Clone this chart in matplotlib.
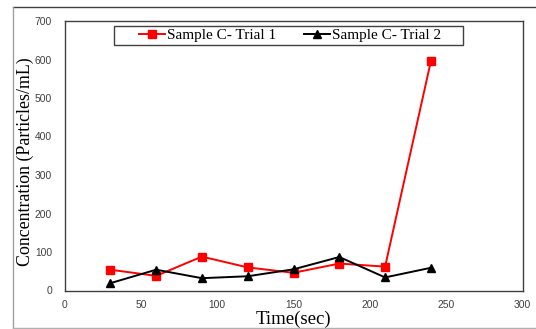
import matplotlib
matplotlib.use("Agg")
import matplotlib.pyplot as plt
from matplotlib.patches import Rectangle
from matplotlib.lines import Line2D

time_sec = [30, 60, 90, 120, 150, 180, 210, 240]
trial1 = [54, 38, 88, 60, 46, 70, 62, 596]
trial2 = [19, 54, 32, 37, 55, 87, 34, 59]
label1 = "Sample C- Trial 1"
label2 = "Sample C- Trial 2"
x_ticks = [0, 50, 100, 150, 200, 250, 300]
y_ticks = [0, 100, 200, 300, 400, 500, 600, 700]

plt.rcParams['font.family'] = ['Liberation Serif', 'DejaVu Serif']

W, H = 536, 329
fig = plt.figure(figsize=(W/100, H/100), dpi=100)
ax = fig.add_axes([64.5/W, 1-290.5/H, (522.5-64.5)/W, (290.5-21)/H])

# outer frame lines
fig.add_artist(Line2D([13/W, 1], [1-7/H, 1-7/H], color='#404040', lw=1.0, transform=fig.transFigure))
fig.add_artist(Line2D([13/W, 13/W], [1-7/H, 1-327.5/H], color='#a0a0a0', lw=1.0, transform=fig.transFigure))
fig.add_artist(Line2D([13/W, 1], [1-327.5/H, 1-327.5/H], color='#b0b0b0', lw=1.0, transform=fig.transFigure))

ax.plot(time_sec, trial1, color='#ff0000', lw=1.4, marker='s', markersize=5.5, label=label1)
ax.plot(time_sec, trial2, color='#000000', lw=1.4, marker='^', markersize=6, label=label2)

ax.set_xlim(0, 300)
ax.set_ylim(0, 700)
ax.set_xticks(x_ticks)
ax.set_yticks(y_ticks)
ax.tick_params(length=0, labelsize=7.4, labelcolor='#404040')
ax.tick_params(axis='y', pad=9)
ax.tick_params(axis='x', pad=7)
for lab in ax.get_xticklabels() + ax.get_yticklabels():
    lab.set_fontfamily(['Liberation Sans', 'DejaVu Sans'])
for s in ax.spines.values():
    s.set_color('#404040')
    s.set_linewidth(1.0)

ax.set_xlabel("Time(sec)", fontsize=13.5, labelpad=0)
ax.set_ylabel("Concentration (Particles/mL)", fontsize=12.9)
ax.yaxis.set_label_coords(-0.066, 0.477)

leg = ax.legend(loc='center', bbox_to_anchor=(0.4924, 0.9466), ncol=2, fontsize=11,
                frameon=False, handlelength=1.7,
                handletextpad=0.13, columnspacing=1.8, borderpad=0.0, borderaxespad=0)
ax.add_patch(Rectangle((0.108, 0.911), 0.870-0.108, 0.9826-0.911, transform=ax.transAxes,
                       fill=False, edgecolor='#404040', lw=1.0, zorder=5))

fig.savefig("out.png", dpi=100)
